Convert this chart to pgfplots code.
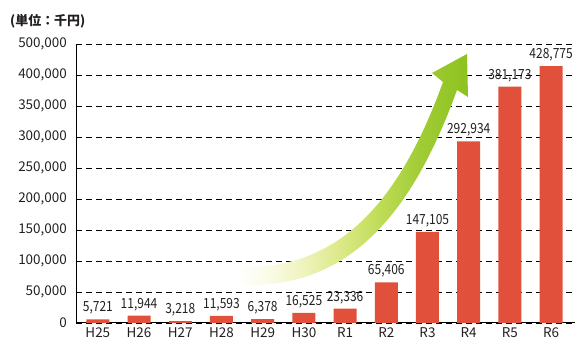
\documentclass[border=0pt]{standalone}
\usepackage{fontspec}
\setmainfont{Noto Sans CJK JP}
\newfontfamily\lblfont{Noto Sans CJK JP}[FakeStretch=0.86]
\usepackage{pgfplots}
\pgfplotsset{compat=1.18}
\definecolor{barred}{HTML}{E1503A}
\definecolor{txt}{HTML}{231F20}
\definecolor{a1}{HTML}{FAFBE6}
\definecolor{a2}{HTML}{F0F4C0}
\definecolor{a3}{HTML}{DDE98A}
\definecolor{a4}{HTML}{BEDC55}
\definecolor{a5}{HTML}{A0CC35}
\definecolor{a6}{HTML}{8DC21F}
\pgfdeclarehorizontalshading{arrowshade}{100bp}{color(0bp)=(white); color(25bp)=(white); color(32bp)=(a1); color(38.5bp)=(a2); color(47bp)=(a3); color(56bp)=(a4); color(64.6bp)=(a5); color(75bp)=(a6); color(100bp)=(a6)}
\begin{document}
\begin{tikzpicture}
\useasboundingbox (0,0) rectangle (583bp,351bp);
\begin{axis}[
  at={(76bp,28bp)}, anchor=south west,
  width=499bp, height=279bp, scale only axis,
  ybar, bar width=23bp,
  xmin=-0.53, xmax=11.58,
  ymin=0, ymax=450000,
  scaled y ticks=false,
  axis x line=bottom, axis y line=left,
  axis line style={-, line width=1bp, black},
  ytick={0,50000,100000,150000,200000,250000,300000,350000,400000,450000},
  yticklabels={0,{50,000},{100,000},{150,000},{200,000},{250,000},{300,000},{350,000},{400,000},{500,000}},
  xtick={0,1,2,3,4,5,6,7,8,9,10,11},
  xticklabels={H25,H26,H27,H28,H29,H30,R1,R2,R3,R4,R5,R6},
  ymajorgrids,
  grid style={black, line width=0.9bp, dash pattern=on 6bp off 4bp},
  major tick length=0pt,
  tick label style={font=\fontsize{13.5}{15}\selectfont, text=txt},
  yticklabel style={anchor=east, inner sep=0pt, xshift=-9bp},
  xticklabel style={anchor=north, inner sep=0pt, yshift=-4bp},
  /pgf/number format/assume math mode=true,
  point meta=explicit,
  nodes near coords={\pgfmathprintnumber[fixed, precision=0, 1000 sep={,}, assume math mode=true]{\pgfplotspointmeta}},
  nodes near coords style={font=\lblfont\fontsize{14}{16}\selectfont, text=txt, anchor=base, inner sep=0pt, yshift=7.5bp},
]
% top interval of the reference's axis spans 400,000 to 500,000
\addplot[fill=barred, draw=none,
  y filter/.code={\edef\tmpy{\pgfmathresult}\pgfmathparse{min(\tmpy,400000)+max(\tmpy-400000,0)/2}}]
coordinates {
(0,5721) [5721]
(1,11944) [11944]
(2,3218) [3218]
(3,11593) [11593]
(4,6378) [6378]
(5,16525) [16525]
(6,23336) [23336]
(7,65406) [65406]
(8,147105) [147105]
(9,292934) [292934]
(10,381173) [381173]
(11,428775) [428775]
};
\end{axis}
\shade[shading=arrowshade]
  (238bp,84bp) .. controls (330bp,81bp) and (395bp,136bp) .. (443bp,269bp)
  -- (432bp,278bp) -- (467bp,297bp) -- (468bp,254bp) -- (457bp,261bp)
  .. controls (410bp,131bp) and (345bp,61bp) .. (238bp,66bp) -- cycle;
\node[anchor=west, font=\bfseries\fontsize{13}{15}\selectfont, text=txt, inner sep=0pt] at (10bp,330bp) {(単位：千円)};
\end{tikzpicture}
\end{document}
